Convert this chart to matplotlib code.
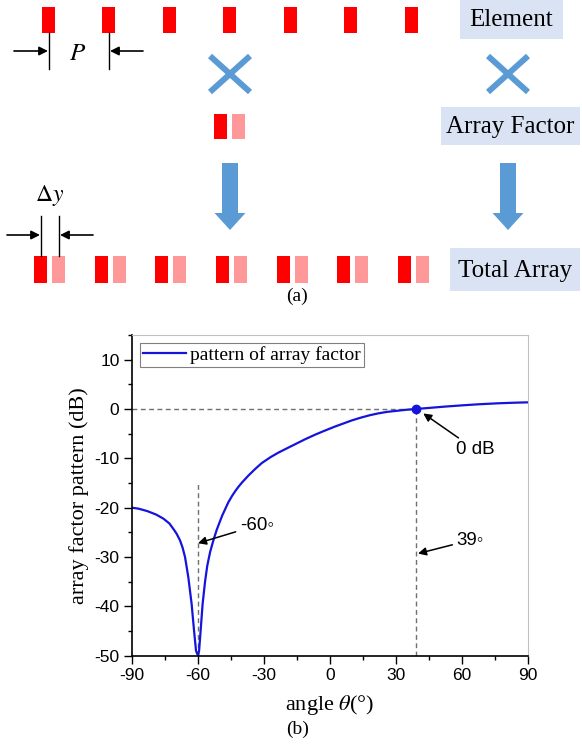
import matplotlib
matplotlib.use('Agg')
import matplotlib.pyplot as plt
from matplotlib.patches import Rectangle, FancyArrow
from matplotlib.ticker import MultipleLocator

plt.rcParams['font.family'] = ['Liberation Sans', 'DejaVu Sans']
plt.rcParams['mathtext.fontset'] = 'stix'
plt.rcParams['axes.unicode_minus'] = False

# array factor pattern (angle in deg, level in dB)
theta = [-90, -87, -83, -79, -75.8, -73, -71.2, -69.7, -68.2, -67, -65.9, -64.4, -62.9,
         -61.8, -60.9, -60, -59.5, -58.8, -57.9, -56.8, -55.8, -54.5, -53, -51.5, -49,
         -46.2, -44.5, -43, -41.5, -40, -37, -34, -31, -27, -23.5, -19.5, -15.9, -11.4, -7, -3,
         2, 6, 10, 14, 18, 22, 26, 30, 35, 39, 45, 52, 60, 68, 76, 84, 90]
af_db = [-20.0, -20.2, -20.7, -21.4, -22.2, -23.2, -24.3, -25.3, -26.6, -28.1, -30.0, -34.1, -39.5,
         -44.9, -49.0, -50.0, -49.0, -44.9, -39.5, -35.0, -31.8, -29.0, -26.6, -24.5, -21.6,
         -18.9, -17.6, -16.6, -15.7, -14.9, -13.45, -12.15, -10.95, -9.75, -8.85, -7.95, -7.15, -6.15, -5.25, -4.5,
         -3.6, -2.95, -2.3, -1.75, -1.27, -0.88, -0.58, -0.38, -0.14, 0.0, 0.22, 0.48, 0.74, 0.97, 1.15, 1.28, 1.35]

null_angle = -60
zero_angle = 39
legend_label = 'pattern of array factor'

# schematic (a): element positions in pixels
elem_x = [42, 102, 163, 223, 284, 344, 405]
total_x = [34, 95, 155, 216, 277, 337, 398]

RED = '#ff0000'
PINK = '#ff9999'
BLUE = '#5b9bd5'
BOXC = '#dae3f3'
SERIF = 'Liberation Serif'

fig = plt.figure(figsize=(5.82, 7.44), dpi=100)

# overlay in pixel coordinates for the schematic
ax0 = fig.add_axes([0, 0, 1, 1])
ax0.set_xlim(0, 582)
ax0.set_ylim(744, 0)
ax0.axis('off')

for x in elem_x:
    ax0.add_patch(Rectangle((x, 7), 13, 26, color=RED, lw=0))
for x in total_x:
    ax0.add_patch(Rectangle((x, 256), 13, 27, color=RED, lw=0))
    ax0.add_patch(Rectangle((x + 18, 256), 13, 27, color=PINK, lw=0))
ax0.add_patch(Rectangle((214, 114), 13, 25, color=RED, lw=0))
ax0.add_patch(Rectangle((232, 114), 13, 25, color=PINK, lw=0))

# crosses
for cx in [230, 508]:
    ax0.plot([cx - 20, cx + 20], [56, 92], color=BLUE, lw=4.3, solid_capstyle='butt')
    ax0.plot([cx - 20, cx + 20], [92, 56], color=BLUE, lw=4.3, solid_capstyle='butt')

# big down arrows
for cx in [230, 508]:
    ax0.add_patch(FancyArrow(cx, 163, 0, 67, width=16, head_width=31, head_length=17,
                             length_includes_head=True, color=BLUE, lw=0))

# label boxes
for (x0, y0, w, h, txt) in [(460, 0, 103, 39, 'Element'),
                            (441, 107, 139, 38, 'Array Factor'),
                            (450, 248, 130, 43, 'Total Array')]:
    ax0.add_patch(Rectangle((x0, y0), w, h, color=BOXC, lw=0))
    ax0.text(x0 + w / 2, y0 + h / 2 + 1, txt, family=SERIF, fontsize=18,
             ha='center', va='center')

# P dimension marks
arr = dict(arrowstyle='-|>', color='black', lw=1.2, mutation_scale=13, shrinkA=0, shrinkB=0)
ax0.plot([49, 49], [33, 69], color='black', lw=1.0)
ax0.plot([109, 109], [33, 69], color='black', lw=1.0)
ax0.annotate('', xy=(48, 51), xytext=(14, 51), arrowprops=arr)
ax0.annotate('', xy=(110, 51), xytext=(143, 51), arrowprops=arr)
ax0.text(78, 53, '$P$', fontsize=18, ha='center', va='center')

# delta y marks
ax0.plot([41, 41], [216, 256], color='black', lw=1.0)
ax0.plot([59, 59], [216, 256], color='black', lw=1.0)
ax0.annotate('', xy=(40, 235), xytext=(7, 235), arrowprops=arr)
ax0.annotate('', xy=(60, 235), xytext=(93, 235), arrowprops=arr)
ax0.text(50, 196, r'$\Delta y$', fontsize=17, ha='center', va='center')

ax0.text(297, 296, '(a)', family=SERIF, fontsize=14, ha='center', va='center')
ax0.text(298, 729, '(b)', family=SERIF, fontsize=14, ha='center', va='center')

# plot (b)
ax = fig.add_axes([132 / 582, 1 - 655.7 / 744, 396 / 582, 320.7 / 744])
dash = (0, (3.5, 2.5))
ax.plot([-90, zero_angle], [0, 0], color='#707070', lw=1.0, ls=dash)
ax.plot([zero_angle, zero_angle], [-50, 0], color='#707070', lw=1.0, ls=dash)
ax.plot([null_angle, null_angle], [-50, -15], color='#707070', lw=1.0, ls=dash)
ax.plot(theta, af_db, color='#1414dc', lw=1.6, label=legend_label)
ax.plot(zero_angle, 0, 'o', color='#1414dc', ms=6)

ax.set_xlim(-90, 90)
ax.set_ylim(-50, 15)
ax.xaxis.set_major_locator(MultipleLocator(30))
ax.xaxis.set_minor_locator(MultipleLocator(15))
ax.set_yticks([-50, -40, -30, -20, -10, 0, 10])
ax.yaxis.set_minor_locator(MultipleLocator(5))
ax.tick_params(which='major', direction='out', length=6, width=1.0, labelsize=12.5, pad=3)
ax.tick_params(which='minor', direction='out', length=3, width=1.0)
for s in ['left', 'bottom']:
    ax.spines[s].set_linewidth(1.2)
for s in ['top', 'right']:
    ax.spines[s].set_color('#c0c0c0')

ax.set_ylabel('array factor pattern (dB)', family=SERIF, fontsize=16)
ax.yaxis.set_label_coords(-0.108, 0.5)
ax.set_xlabel(r'angle $\theta$(°)', family=SERIF, fontsize=16)
ax.xaxis.set_label_coords(0.5, -0.117)

leg = ax.legend(loc='upper left', bbox_to_anchor=(0.02, 0.975), borderaxespad=0,
                prop={'family': SERIF, 'size': 14}, handlelength=2.2,
                handletextpad=0.25, borderpad=0.15, fancybox=False, framealpha=1)
leg.get_frame().set_edgecolor('#808080')
leg.get_frame().set_linewidth(0.8)

arr2 = dict(arrowstyle='-|>', color='black', lw=1.1, mutation_scale=12, shrinkA=1, shrinkB=0)
ax.annotate('-60\u25e6', xy=(-60, -27.2), xytext=(-41, -23.6), ha='left', va='center',
            fontsize=13.5, arrowprops=arr2)
ax.annotate('0 dB', xy=(42.4, -0.9), xytext=(57.5, -8.3), ha='left', va='center',
            fontsize=13.5, arrowprops=arr2)
ax.annotate('39\u25e6', xy=(40, -29.3), xytext=(57.5, -26.6), ha='left', va='center',
            fontsize=13.5, arrowprops=arr2)

plt.savefig('out.png', dpi=100)
